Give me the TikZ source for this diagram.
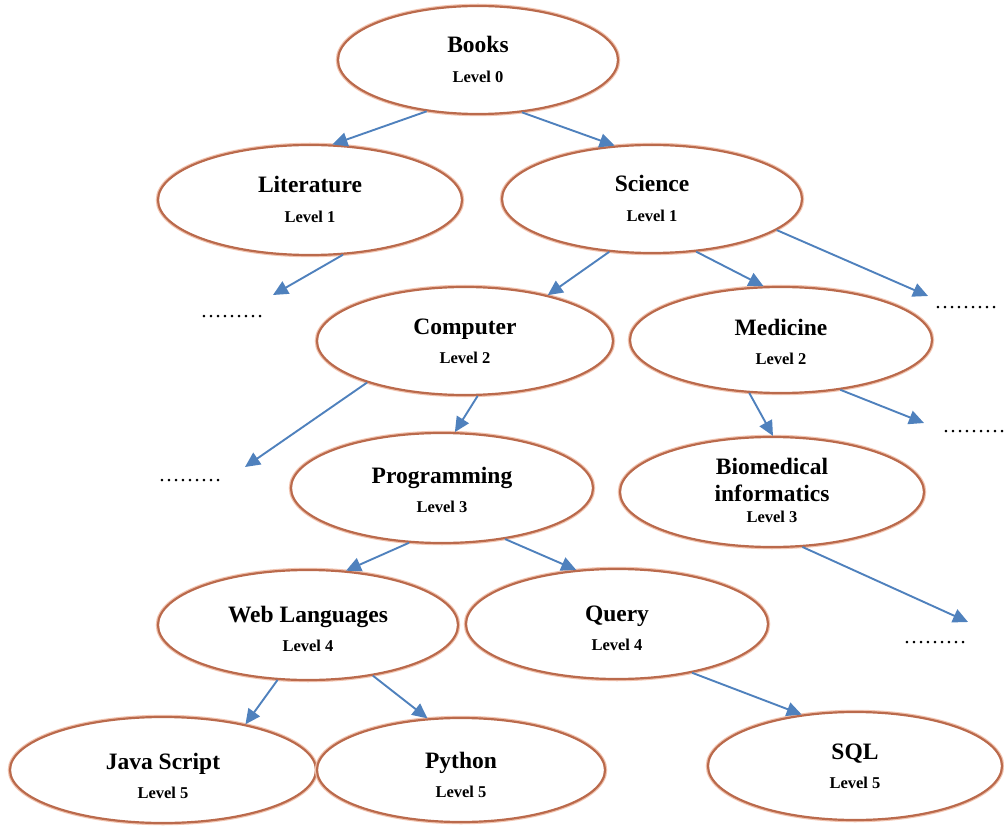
\documentclass[tikz,border=0pt]{standalone}
\usepackage{fontspec}
\setmainfont{Liberation Serif}
\usetikzlibrary{shapes.geometric,arrows.meta}
\definecolor{ellline}{HTML}{BA6A4C}
\definecolor{ellglow}{HTML}{F2C4B0}
\definecolor{arrcol}{HTML}{4F81BD}
\newcommand{\myttl}{\fontsize{23.5}{26}\selectfont\bfseries}
\newcommand{\mylvl}{\fontsize{16.5}{18}\selectfont\bfseries}
\newcommand{\elltext}[3][0pt]{\smash{\makebox[0pt]{\raisebox{\dimexpr-7pt-#1\relax}{\fontsize{22}{26}\selectfont\renewcommand\arraystretch{1.13}\begin{tabular}[c]{@{}c@{}}\myttl #2\\\mylvl #3\end{tabular}}}}}
\newcommand{\elltextthree}[3]{\smash{\makebox[0pt]{\raisebox{-6pt}{\fontsize{22}{26}\selectfont\renewcommand\arraystretch{1.05}\begin{tabular}[c]{@{}c@{}}\myttl #1\\\myttl #2\\[-7pt]\mylvl #3\end{tabular}}}}}
\tikzset{
  ell/.style={ellipse, draw=ellline, line width=2.2pt, fill=white, inner sep=0pt,
    preaction={draw=ellglow, line width=4.5pt}},
  arr/.style={draw=arrcol, line width=1.9pt, -{Triangle[length=15pt,width=14pt]}},
  dotsnode/.style={inner sep=0pt, font=\fontsize{21}{22}\selectfont}
}
\begin{document}
\begin{tikzpicture}[x=1pt,y=-1pt]
\useasboundingbox (0,0) rectangle (1004,826);
\fill[white] (0,0) rectangle (1004,826);
% nodes
\node[ell, minimum width=280pt, minimum height=108pt] (books) at (478,60) {\elltext{Books}{Level 0}};
\node[ell, minimum width=304pt, minimum height=110pt] (lit) at (310,200) {\elltext{Literature}{Level 1}};
\node[ell, minimum width=300pt, minimum height=108pt] (sci) at (652,199) {\elltext{Science}{Level 1}};
\node[ell, minimum width=296pt, minimum height=108pt] (comp) at (465,341) {\elltext{Computer}{Level 2}};
\node[ell, minimum width=302pt, minimum height=106pt] (med) at (781,340) {\elltext[2pt]{Medicine}{Level 2}};
\node[ell, minimum width=302pt, minimum height=110pt] (prog) at (442,488) {\elltext[2pt]{Programming}{Level 3}};
\node[ell, minimum width=304pt, minimum height=110pt] (bio) at (772,492) {\elltextthree{Biomedical}{informatics}{Level 3}};
\node[ell, minimum width=300pt, minimum height=110pt] (web) at (308,625) {\elltext[4pt]{Web Languages}{Level 4}};
\node[ell, minimum width=302pt, minimum height=110pt] (query) at (617,624) {\elltext[4pt]{Query}{Level 4}};
\node[ell, minimum width=306pt, minimum height=106pt] (java) at (163,770) {\elltext[6pt]{Java Script}{Level 5}};
\node[ell, minimum width=288pt, minimum height=104pt] (python) at (461,770) {\elltext[5pt]{Python}{Level 5}};
\node[ell, minimum width=294pt, minimum height=108pt] (sql) at (855,766) {\elltext{SQL}{Level 5}};
% dots
\node[dotsnode] (d1) at (232,317) {………};
\node[dotsnode] (d2) at (966,308) {………};
\node[dotsnode] (d3) at (190,481) {………};
\node[dotsnode] (d4) at (974,432) {………};
\node[dotsnode] (d5) at (935,643) {………};
\coordinate (t1) at (273,295);
\coordinate (t2) at (928,296);
\coordinate (t3) at (245,467);
\coordinate (t4) at (924,423);
\coordinate (t5) at (968,622);
% arrows
\draw[arr] (books.225) -- (lit.68);
\draw[arr] (books.310) -- (sci.125);
\draw[arr] (lit.301) -- (t1);
\draw[arr] (sci.231) -- (comp.29);
\draw[arr] (sci.310) -- (med.108);
\draw[arr] (sci.346) -- (t2);
\draw[arr] (comp.203) -- (t3);
\draw[arr] (comp.283) -- (prog.77);
\draw[arr] (med.239) -- (bio.89);
\draw[arr] (med.320) -- (t4);
\draw[arr] (prog.239) -- (web.55);
\draw[arr] (prog.321) -- (query.127);
\draw[arr] (bio.299) -- (t5);
\draw[arr] (web.241) -- (java.29);
\draw[arr] (web.322) -- (python.123);
\draw[arr] (query.327) -- (sql.136);
\end{tikzpicture}
\end{document}
